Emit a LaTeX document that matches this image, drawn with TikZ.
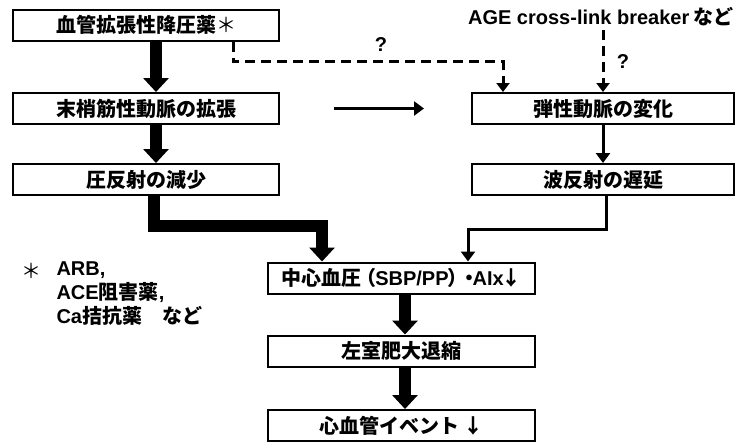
\documentclass[tikz,border=0pt]{standalone}
\usepackage{fontspec}
\setmainfont{Noto Sans CJK JP}
\newfontfamily\lat{Liberation Sans}
\usetikzlibrary{arrows.meta}
\begin{document}
\begin{tikzpicture}[x=1pt,y=-1pt,
  every node/.style={font=\bfseries\fontsize{20}{24}\selectfont},
  box/.style={draw, line width=2pt, minimum height=31pt, inner sep=0pt},
  fat/.style={line width=12pt, -{Triangle[width=25pt,length=14pt]}},
  thinarr/.style={line width=3pt, -{Triangle[width=14pt,length=10pt]}},
  dsh/.style={line width=3pt, dash pattern=on 10pt off 6pt, -{Triangle[width=13pt,length=9pt]}}]
\useasboundingbox (0,0) rectangle (738,442);
\node[box, minimum width=266pt] (b1) at (146,25) {血管拡張性降圧薬{\mdseries＊}};
\node[box, minimum width=266pt] (b2) at (146,108.5) {末梢筋性動脈の拡張};
\node[box, minimum width=266pt] (b3) at (146,179.5) {圧反射の減少};
\node[box, minimum width=262pt] (r1) at (603,108.5) {弾性動脈の変化};
\node[box, minimum width=262pt] (r2) at (603,179.5) {波反射の遅延};
\node[box, minimum width=267pt] (c1) at (401.5,278) {中心血圧\kern-5pt（\kern-1pt{\lat SBP/PP}\kern-1pt）\kern-8pt・\kern-7pt{\lat AIx}\kern-2pt↓};
\node[box, minimum width=267pt] (c2) at (401.5,351) {左室肥大退縮};
\node[box, minimum width=267pt] (c3) at (401.5,425.5) {心血管イベント ↓};
\node (age) at (601,17) {{\lat AGE cross-link breaker} など};
\node (q1) at (381,45) {{\lat ?}};
\node (q2) at (623,62) {{\lat ?}};
\node[font=\mdseries\fontsize{20}{24}\selectfont] (ast) at (31,271) {＊};
\node[anchor=west, align=left] (note) at (53,294) {{\lat ARB,}\\{\lat ACE}阻害薬{\lat ,}\\{\lat Ca}拮抗薬　など};
\draw[fat] ([xshift=10]b1.south) -- ([xshift=10]b2.north);
\draw[fat] ([xshift=10]b2.south) -- ([xshift=10]b3.north);
\draw[fat] ([xshift=8]b3.south) -- ++(0,30) -| ([xshift=-79.5]c1.north);
\draw[thinarr] ([xshift=3]r2.south) -- ++(0,33) -| ([xshift=66.5]c1.north);
\draw[thinarr] (r1.south) -- (r2.north);
\draw[fat] ([xshift=3.5]c1.south) -- ([xshift=3.5]c2.north);
\draw[fat] ([xshift=3.5]c2.south) -- ([xshift=3.5]c3.north);
\draw[thinarr] ([xshift=54]b2.east) -- ([xshift=-47]r1.west);
\draw[dsh] ([xshift=87]b1.south) -- ++(0,20) -| ([xshift=-100]r1.north);
\draw[dsh] (age.south -| r1.north) -- (r1.north);
\end{tikzpicture}
\end{document}
